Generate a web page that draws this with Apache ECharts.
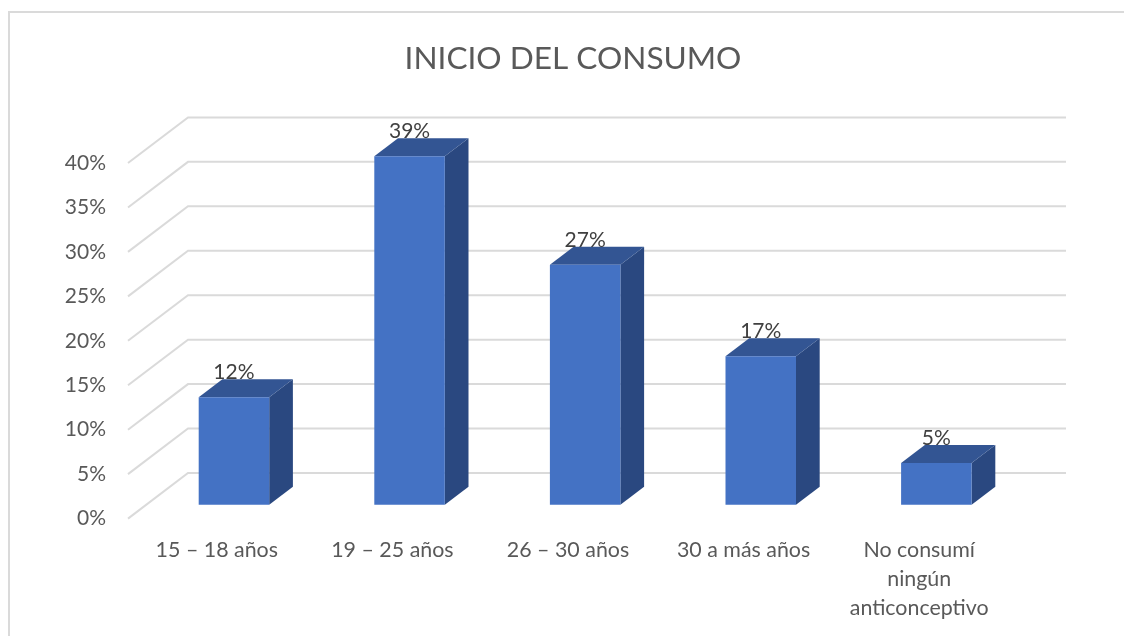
<!DOCTYPE html>
<html>
<head>
<meta charset="utf-8">
<style>html,body{margin:0;padding:0;background:#fff}#c{width:1124px;height:636px}</style>
<script src="https://cdn.jsdelivr.net/npm/echarts@6/dist/echarts.min.js"></script>
</head>
<body>
<div id="c"></div>
<script>
const chartTitle = 'INICIO DEL CONSUMO';
const categories = ['15 – 18 años', '19 – 25 años', '26 – 30 años', '30 a más años', 'No consumí\nningún\nanticonceptivo'];
const values = [12.1, 39.2, 27.0, 16.7, 4.7];
const tickValues = [0, 5, 10, 15, 20, 25, 30, 35, 40];

const FONT = 'Lato';
const DX = 60, DY = 45.6;          // floor depth in pixels
const BAR_DX = 23.7, BAR_DY = 18;  // bar depth in pixels
const GAP_DX = (DX - BAR_DX) / 2, GAP_DY = (DY - BAR_DY) / 2;
const BAR_RATIO = 0.4015;

function renderWall(params, api) {
  const cs = params.coordSys;
  const y = api.coord([0, api.value(0)])[1];
  const x0 = cs.x, x1 = cs.x + DX, x2 = cs.x + cs.width + DX;
  return {
    type: 'polyline',
    shape: { points: [[x0, y], [x1, y - DY], [x2, y - DY]] },
    style: { stroke: '#dadada', lineWidth: 2, fill: null }
  };
}

function renderBar(params, api) {
  const idx = api.value(0), val = api.value(1);
  const base = api.coord([idx, 0]);
  const top = api.coord([idx, val]);
  const w = api.size([1, 0])[0] * BAR_RATIO;
  const l = base[0] + GAP_DX - w / 2, r = l + w;
  const yb = base[1] - GAP_DY, yt = top[1] - GAP_DY;
  return {
    type: 'group',
    children: [
      { type: 'polygon', shape: { points: [[r, yt], [r + BAR_DX, yt - BAR_DY], [r + BAR_DX, yb - BAR_DY], [r, yb]] },
        style: { fill: '#2a4880' } },
      { type: 'polygon', shape: { points: [[l, yt], [l + BAR_DX, yt - BAR_DY], [r + BAR_DX, yt - BAR_DY], [r, yt]] },
        style: { fill: '#335593' } },
      { type: 'rect', shape: { x: l, y: yt, width: w, height: yb - yt },
        style: { fill: '#4472c4' } },
      { type: 'text', z2: 5, style: { x: l + w / 2, y: yt - 25, text: Math.round(val) + '%',
          fill: '#404040', font: '21px ' + FONT, textAlign: 'center', textVerticalAlign: 'middle' } }
    ]
  };
}

const chart = echarts.init(document.getElementById('c'), null, { renderer: 'canvas' });
chart.setOption({
  animation: false,
  backgroundColor: '#fff',
  title: {
    text: chartTitle, left: 568, top: 54, textAlign: 'center', textVerticalAlign: 'middle',
    textStyle: { fontFamily: FONT, fontSize: 31.6, fontWeight: 'normal', color: '#595959' }
  },
  graphic: [{
    type: 'polyline', silent: true,
    shape: { points: [[9, 640], [9, 12], [1130, 12]] },
    style: { stroke: '#dadada', lineWidth: 2, fill: null }
  }],
  grid: { left: 128, top: 163, width: 878, height: 355.6, containLabel: false },
  xAxis: {
    type: 'category', data: categories,
    axisLine: { show: false }, axisTick: { show: false }, splitLine: { show: false },
    axisLabel: { interval: 0, margin: 17, color: '#595959', fontFamily: FONT, fontSize: 21.4, lineHeight: 29, align: 'center', padding: [0, 0, 0, 2] }
  },
  yAxis: {
    type: 'value', min: 0, max: 40, interval: 5,
    axisLine: { show: false }, axisTick: { show: false }, splitLine: { show: false },
    axisLabel: { margin: 22, color: '#595959', fontFamily: FONT, fontSize: 21, padding: [3, 0, 0, 0], formatter: '{value}%' }
  },
  series: [
    { type: 'custom', name: 'wall', renderItem: renderWall, data: tickValues.map(v => [v]),
      encode: { y: 0 }, clip: false, silent: true, z: 1 },
    { type: 'custom', name: 'Inicio', renderItem: renderBar,
      data: values.map((v, i) => [i, v]), encode: { x: 0, y: 1 }, clip: false, z: 2 }
  ]
});
</script>
</body>
</html>
